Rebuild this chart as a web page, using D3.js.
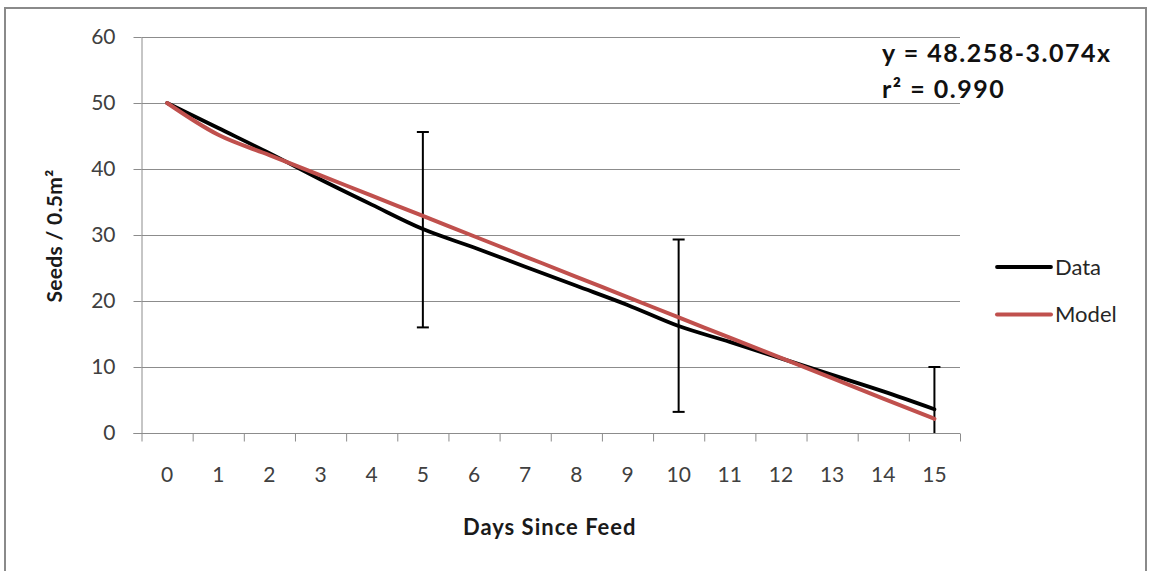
<!DOCTYPE html>
<html>
<head>
<meta charset="utf-8">
<script src="https://cdn.jsdelivr.net/npm/d3@7"></script>
<style>
  body { margin: 0; background: #fff; }
  svg { display: block; font-family: Lato, 'Open Sans', sans-serif; }
</style>
</head>
<body>
<div id="chart"></div>
<script>
// categories (days since feed)
const days = [0, 1, 2, 3, 4, 5, 6, 7, 8, 9, 10, 11, 12, 13, 14, 15];
// observed seeds per 0.5 m2
const dataValues = [50, 46.2, 42.4, 38.4, 34.6, 30.9, 28.1, 25.2, 22.3, 19.4, 16.2, 13.8, 11.3, 8.8, 6.3, 3.6];
// fitted model values
const modelValues = [50, 45.18, 42.11, 39.04, 35.96, 32.89, 29.81, 26.74, 23.67, 20.59, 17.52, 14.44, 11.37, 8.30, 5.22, 2.15];
// error bars on the data series
const errDays = [5, 10, 15];
const errLow = [16.0, 3.2, -2.7];
const errHigh = [45.6, 29.3, 10.0];
const yTicks = [0, 10, 20, 30, 40, 50, 60];
const seriesNames = ['Data', 'Model'];
const seriesColors = ['#000000', '#C0504D'];

const width = 1150;
const height = 571;
const plot = { left: 141.5, right: 960, top: 37, bottom: 433 };
const gridColor = '#8c8c8c';
const labelColor = '#404040';

const svg = d3.select('#chart').append('svg')
  .attr('width', width)
  .attr('height', height);

// outer chart frame
svg.append('rect')
  .attr('x', 5).attr('y', 8)
  .attr('width', 1141).attr('height', 620)
  .attr('fill', 'none')
  .attr('stroke', '#8a8a8a')
  .attr('stroke-width', 2);

const x = d3.scaleBand().domain(days).range([plot.left, plot.right]).padding(0);
const xEdge = d3.scaleLinear().domain([0, days.length]).range([plot.left, plot.right]);
const y = d3.scaleLinear().domain([0, 60]).range([plot.bottom, plot.top]);
const cx = (d) => x(d) + x.bandwidth() / 2;

// horizontal gridlines
svg.append('g')
  .selectAll('line')
  .data(yTicks.filter((t) => t > 0))
  .join('line')
  .attr('x1', plot.left).attr('x2', plot.right)
  .attr('y1', (d) => Math.round(y(d)) + 0.5)
  .attr('y2', (d) => Math.round(y(d)) + 0.5)
  .attr('stroke', gridColor)
  .attr('stroke-width', 1);

// y axis
svg.append('g')
  .attr('transform', `translate(${plot.left},0)`)
  .call(d3.axisLeft(y).tickValues(yTicks).tickSize(8).tickPadding(18).tickSizeOuter(0))
  .call((g) => g.select('.domain').attr('stroke', gridColor))
  .call((g) => g.selectAll('.tick line').attr('stroke', gridColor))
  .call((g) => g.selectAll('.tick text')
    .attr('fill', labelColor)
    .attr('font-size', 21)
    .attr('font-family', 'Lato, sans-serif'));

// x axis: tick marks at category edges
svg.append('g')
  .attr('transform', `translate(0,${plot.bottom + 0.5})`)
  .call(d3.axisBottom(xEdge).tickValues(d3.range(days.length + 1)).tickFormat('').tickSize(8).tickSizeOuter(0))
  .call((g) => g.select('.domain').attr('stroke', gridColor).attr('d', `M${plot.left - 8},0H${plot.right}`))
  .call((g) => g.selectAll('.tick line').attr('stroke', gridColor));

// x axis labels at category centres
svg.append('g')
  .attr('transform', `translate(0,${plot.bottom})`)
  .call(d3.axisBottom(x).tickSize(0).tickPadding(34))
  .call((g) => g.select('.domain').remove())
  .call((g) => g.selectAll('.tick text')
    .attr('fill', labelColor)
    .attr('font-size', 21)
    .attr('font-family', 'Lato, sans-serif'));

// axis titles
svg.append('text')
  .attr('x', (plot.left + plot.right) / 2 - 1)
  .attr('y', 535)
  .attr('text-anchor', 'middle')
  .attr('font-size', 22)
  .attr('letter-spacing', 1)
  .attr('font-weight', 'bold')
  .attr('fill', '#1a1a1a')
  .text('Days Since Feed');

svg.append('text')
  .attr('transform', 'translate(62,236) rotate(-90)')
  .attr('text-anchor', 'middle')
  .attr('font-size', 21)
  .attr('letter-spacing', 0.3)
  .attr('font-weight', 'bold')
  .attr('fill', '#1a1a1a')
  .text('Seeds / 0.5m²');

svg.append('clipPath').attr('id', 'plotclip')
  .append('rect')
  .attr('x', plot.left).attr('y', plot.top - 10)
  .attr('width', plot.right - plot.left).attr('height', plot.bottom - plot.top + 10);

const marks = svg.append('g').attr('clip-path', 'url(#plotclip)');

const line = d3.line()
  .x((d) => cx(d[0]))
  .y((d) => y(d[1]))
  .curve(d3.curveMonotoneX);

// error bars
const errG = marks.append('g')
  .selectAll('g')
  .data(errDays.map((d, i) => ({ day: d, lo: errLow[i], hi: errHigh[i] })))
  .join('g')
  .attr('stroke', '#000')
  .attr('stroke-width', 2);

errG.append('line')
  .attr('x1', (d) => cx(d.day)).attr('x2', (d) => cx(d.day))
  .attr('y1', (d) => y(d.lo)).attr('y2', (d) => y(d.hi));
errG.append('line')
  .attr('x1', (d) => cx(d.day) - 6).attr('x2', (d) => cx(d.day) + 6)
  .attr('y1', (d) => y(d.hi)).attr('y2', (d) => y(d.hi));
errG.append('line')
  .attr('x1', (d) => cx(d.day) - 6).attr('x2', (d) => cx(d.day) + 6)
  .attr('y1', (d) => y(d.lo)).attr('y2', (d) => y(d.lo));

const series = [
  days.map((d, i) => [d, dataValues[i]]),
  days.map((d, i) => [d, modelValues[i]]),
];

marks.append('g')
  .selectAll('path')
  .data(series)
  .join('path')
  .attr('fill', 'none')
  .attr('stroke', (d, i) => seriesColors[i])
  .attr('stroke-width', (d, i) => (i === 0 ? 3.8 : 4))
  .attr('stroke-linejoin', 'round')
  .attr('stroke-linecap', 'round')
  .attr('d', line);

// legend
const legend = svg.append('g')
  .selectAll('g')
  .data(seriesNames)
  .join('g')
  .attr('transform', (d, i) => `translate(997,${267 + i * 47.5})`);

legend.append('line')
  .attr('x1', 0).attr('x2', 54)
  .attr('stroke', (d, i) => seriesColors[i])
  .attr('stroke-width', (d, i) => (i === 0 ? 3.8 : 4))
  .attr('stroke-linecap', 'round');

legend.append('text')
  .attr('x', 58)
  .attr('dy', '0.35em')
  .attr('font-size', 22)
  .attr('fill', '#262626')
  .text((d) => d);

// regression annotation
const eq = svg.append('g')
  .attr('font-size', 25)
  .attr('letter-spacing', 1.5)
  .attr('font-weight', 'bold')
  .attr('fill', '#111');

eq.append('text').attr('x', 882).attr('y', 62).text('y = 48.258-3.074x');
eq.append('text').attr('x', 882).attr('y', 98).text('r² = 0.990');
</script>
</body>
</html>
